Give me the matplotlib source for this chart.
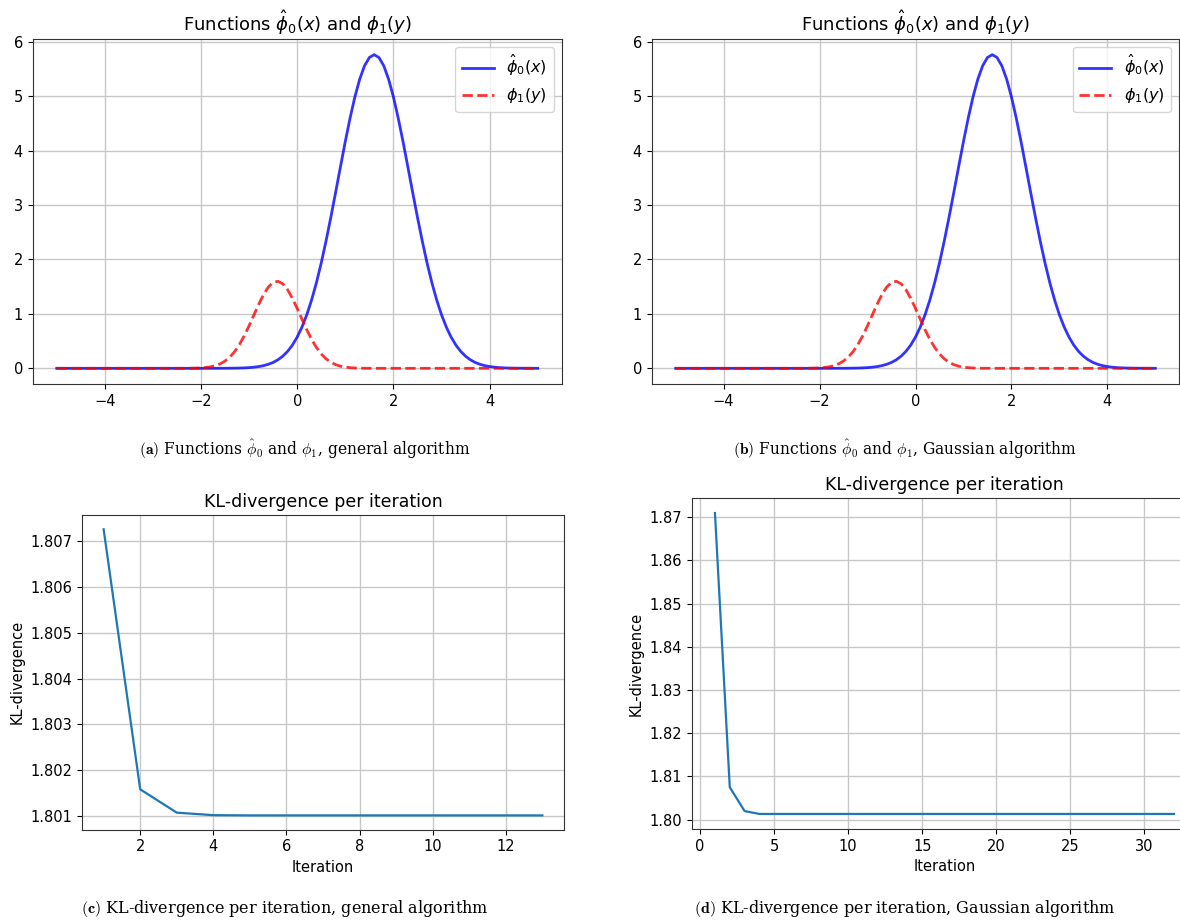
import numpy as np
import matplotlib
matplotlib.use("Agg")
import matplotlib.pyplot as plt

# ---- data -------------------------------------------------------------
x_grid = np.linspace(-5, 5, 101)

phi0_hat = [
    0.000, 0.000, 0.000, 0.000, 0.000, 0.000, 0.000, 0.000, 0.000, 0.000,
    0.000, 0.000, 0.000, 0.000, 0.000, 0.000, 0.000, 0.000, 0.000, 0.000,
    0.000, 0.000, 0.000, 0.000, 0.000, 0.000, 0.000, 0.000, 0.000, 0.000,
    0.000, 0.000, 0.000, 0.000, 0.001, 0.001, 0.002, 0.003, 0.005, 0.008,
    0.013, 0.021, 0.032, 0.049, 0.074, 0.108, 0.157, 0.223, 0.311, 0.426,
    0.574, 0.759, 0.985, 1.257, 1.574, 1.936, 2.340, 2.777, 3.236, 3.704,
    4.165, 4.598, 4.987, 5.311, 5.556, 5.708, 5.760, 5.708, 5.556, 5.311,
    4.987, 4.598, 4.165, 3.704, 3.236, 2.777, 2.340, 1.936, 1.574, 1.257,
    0.985, 0.759, 0.574, 0.426, 0.311, 0.223, 0.157, 0.108, 0.074, 0.049,
    0.032, 0.021, 0.013, 0.008, 0.005, 0.003, 0.002, 0.001, 0.001, 0.000,
    0.000,
]

phi1 = [
    0.000, 0.000, 0.000, 0.000, 0.000, 0.000, 0.000, 0.000, 0.000, 0.000,
    0.000, 0.000, 0.000, 0.000, 0.000, 0.000, 0.000, 0.000, 0.000, 0.000,
    0.000, 0.000, 0.000, 0.000, 0.000, 0.000, 0.000, 0.001, 0.002, 0.004,
    0.008, 0.015, 0.028, 0.049, 0.083, 0.134, 0.207, 0.308, 0.439, 0.598,
    0.782, 0.980, 1.177, 1.354, 1.493, 1.578, 1.599, 1.552, 1.444, 1.287,
    1.099, 0.900, 0.706, 0.531, 0.383, 0.264, 0.175, 0.111, 0.067, 0.039,
    0.022, 0.012, 0.006, 0.003, 0.001, 0.001, 0.000, 0.000, 0.000, 0.000,
    0.000, 0.000, 0.000, 0.000, 0.000, 0.000, 0.000, 0.000, 0.000, 0.000,
    0.000, 0.000, 0.000, 0.000, 0.000, 0.000, 0.000, 0.000, 0.000, 0.000,
    0.000, 0.000, 0.000, 0.000, 0.000, 0.000, 0.000, 0.000, 0.000, 0.000,
    0.000,
]

iters_general = list(range(1, 14))
kl_general = [1.80726, 1.80158, 1.80107, 1.801015, 1.80101, 1.80101, 1.80101,
              1.80101, 1.80101, 1.80101, 1.80101, 1.80101, 1.80101]

iters_gauss = list(range(1, 33))
kl_gauss = [1.87096, 1.80752, 1.80200, 1.80133] + [1.80133] * 28

captions = [
    (r"$\mathbf{(a)}$ Functions $\hat{\phi}_0$ and $\phi_1$, general algorithm"),
    (r"$\mathbf{(b)}$ Functions $\hat{\phi}_0$ and $\phi_1$, Gaussian algorithm"),
    (r"$\mathbf{(c)}$ KL-divergence per iteration, general algorithm"),
    (r"$\mathbf{(d)}$ KL-divergence per iteration, Gaussian algorithm"),
]

# ---- figure -----------------------------------------------------------
W, H = 1180, 922
fig = plt.figure(figsize=(W / 100, H / 100), dpi=100)


def axes_px(left, top, right, bottom):
    return fig.add_axes([left / W, 1 - bottom / H, (right - left) / W, (bottom - top) / H])


def phi_panel(ax):
    ax.plot(x_grid, phi0_hat, color="b", lw=2, alpha=0.8, label=r"$\hat{\phi}_0(x)$")
    ax.plot(x_grid, phi1, color="r", ls="--", lw=2, alpha=0.8, label=r"$\phi_1(y)$")
    ax.set_title(r"Functions $\hat{\phi}_0(x)$ and $\phi_1(y)$", fontsize=13)
    ax.grid(True, color="#c8c8c8", lw=1.0)
    ax.legend(loc="upper right", fontsize=11.5)
    ax.tick_params(labelsize=10.5)


def kl_panel(ax, it, kl, fs_title=12.5, fs_tick=10.5):
    ax.plot(it, kl, color="#1f77b4", lw=1.6)
    ax.set_title("KL-divergence per iteration", fontsize=fs_title)
    ax.set_xlabel("Iteration", fontsize=fs_tick)
    ax.set_ylabel("KL-divergence", fontsize=fs_tick)
    ax.grid(True, color="#c8c8c8", lw=1.0)
    ax.tick_params(labelsize=fs_tick)


axA = axes_px(32.7, 39, 561.7, 384)
axB = axes_px(651.7, 39, 1179.3, 384)
axC = axes_px(81.7, 515, 564.3, 829.7)
axD = axes_px(692, 498, 1197, 829)

phi_panel(axA)
phi_panel(axB)

kl_panel(axC, iters_general, kl_general)
axC.ticklabel_format(axis="y", useOffset=False)
axC.set_yticks([1.801, 1.802, 1.803, 1.804, 1.805, 1.806, 1.807])
axC.set_xticks([2, 4, 6, 8, 10, 12])

kl_panel(axD, iters_gauss, kl_gauss)
axD.ticklabel_format(axis="y", useOffset=False)
axD.set_yticks([1.80, 1.81, 1.82, 1.83, 1.84, 1.85, 1.86, 1.87])
axD.set_yticklabels(["1.80", "1.81", "1.82", "1.83", "1.84", "1.85", "1.86", "1.87"])

for ax in (axA, axB, axC, axD):
    for s in ax.spines.values():
        s.set_color("#333333")

cap_pos = [(305, 449), (905, 449), (285, 908), (905, 908)]
cap_size = [11.2, 11.2, 11.5, 11.5]
for (cx, cy), fs, txt in zip(cap_pos, cap_size, captions):
    fig.text(cx / W, 1 - cy / H, txt, ha="center", va="center",
             fontsize=fs, family="DejaVu Serif", math_fontfamily="cm")

fig.savefig("out.png", dpi=100)
